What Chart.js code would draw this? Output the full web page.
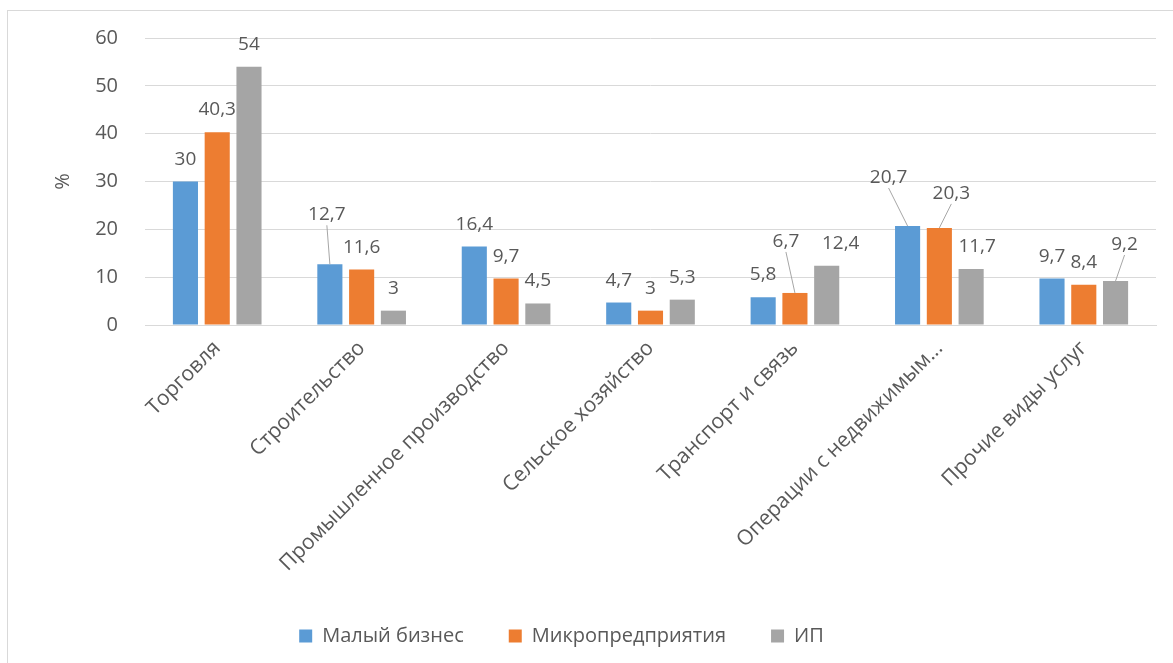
<!DOCTYPE html>
<html>
<head>
<meta charset="utf-8">
<script src="https://cdn.jsdelivr.net/npm/chart.js@4/dist/chart.umd.min.js"></script>
<style>
  html, body { margin: 0; padding: 0; background: #fff; }
  #box {
    position: absolute; left: 7px; top: 10px;
    width: 1166px; height: 653px;
    border-left: 1px solid #d9d9d9; border-top: 1px solid #d9d9d9;
  }
</style>
</head>
<body>
<div id="box"><canvas id="myChart" width="1165" height="652"></canvas></div>
<script>
var categories = ['Торговля', 'Строительство', 'Промышленное производство', 'Сельское хозяйство',
  'Транспорт и связь', 'Операции с недвижимым...', 'Прочие виды услуг'];
var smallBiz = [30, 12.7, 16.4, 4.7, 5.8, 20.7, 9.7];
var microBiz = [40.3, 11.6, 9.7, 3, 6.7, 20.3, 8.4];
var soleProp = [54, 3, 4.5, 5.3, 12.4, 11.7, 9.2];
var seriesNames = ['Малый бизнес', 'Микропредприятия', 'ИП'];
var yTicks = [0, 10, 20, 30, 40, 50, 60];

var textColor = '#595959';
var ctx = document.getElementById('myChart');

// a few labels were dragged by hand in the original: "dataset,index" -> [dx, extra lift]
var labelNudge = {
  '0,1': [-3, 27], '1,4': [-9, 29], '2,4': [14, 0],
  '0,5': [-19, 26], '1,5': [12, 12], '2,5': [6, 0], '2,6': [9, 14]
};

// value labels above every bar, comma as decimal sign
var barLabels = {
  id: 'barLabels',
  afterDatasetsDraw: function(chart) {
    var c = chart.ctx;
    c.save();
    c.font = '19px "Open Sans"';
    c.textAlign = 'center';
    c.textBaseline = 'alphabetic';
    chart.data.datasets.forEach(function(ds, i) {
      var meta = chart.getDatasetMeta(i);
      meta.data.forEach(function(bar, j) {
        var n = labelNudge[i + ',' + j] || [0, 0];
        var x = bar.x + n[0];
        var y = bar.y - 17 - n[1];
        if (n[1] > 10) {
          // leader line
          c.strokeStyle = '#a6a6a6';
          c.lineWidth = 1;
          c.beginPath();
          c.moveTo(x, y + 5);
          c.lineTo(bar.x, bar.y);
          c.stroke();
        }
        c.fillStyle = textColor;
        c.fillText(String(ds.data[j]).replace('.', ','), x, y);
      });
    });
    c.restore();
  }
};

// legend in the original sits a little left of centre
var legendShift = {
  id: 'legendShift',
  afterLayout: function(chart) {
    chart.legend.left -= 40;
    chart.legend.right -= 40;
  }
};

new Chart(ctx, {
  type: 'bar',
  data: {
    labels: categories,
    datasets: [
      { label: seriesNames[0], data: smallBiz, backgroundColor: '#5B9BD5' },
      { label: seriesNames[1], data: microBiz, backgroundColor: '#ED7D31' },
      { label: seriesNames[2], data: soleProp, backgroundColor: '#A5A5A5' }
    ]
  },
  plugins: [barLabels, legendShift],
  options: {
    responsive: false,
    animation: false,
    layout: { padding: { top: 27, right: 17, bottom: 7, left: 39 } },
    datasets: { bar: { barPercentage: 0.79, categoryPercentage: 0.66 } },
    plugins: {
      tooltip: { enabled: false },
      legend: {
        position: 'bottom',
        maxHeight: 86,
        labels: {
          color: textColor,
          font: { family: 'Open Sans', size: 20 },
          boxWidth: 13, boxHeight: 13, padding: 45
        }
      }
    },
    scales: {
      x: {
        grid: { display: false },
        border: { color: '#d9d9d9' },
        ticks: {
          color: textColor, minRotation: 45, maxRotation: 45, autoSkip: false,
          font: { family: 'Open Sans', size: 21 }
        },
        afterFit: function(scale) { scale.height = 256; }
      },
      y: {
        min: 0, max: 60,
        afterBuildTicks: function(scale) {
          scale.ticks = yTicks.map(function(v) { return { value: v }; });
        },
        grid: { color: '#d9d9d9', tickLength: 27, tickColor: 'rgba(0,0,0,0)' },
        border: { display: false },
        ticks: { color: textColor, padding: 0, font: { family: 'Open Sans', size: 20 } },
        title: { display: true, text: '%', color: textColor, font: { family: 'Open Sans', size: 20 } },
        afterFit: function(scale) { scale.width = 98; }
      }
    }
  }
});
</script>
</body>
</html>
